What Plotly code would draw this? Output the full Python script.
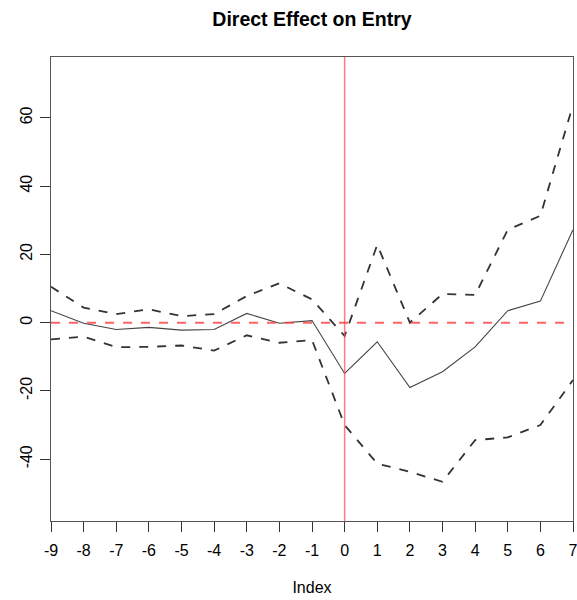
import plotly.graph_objects as go

index = [-9, -8, -7, -6, -5, -4, -3, -2, -1, 0, 1, 2, 3, 4, 5, 6, 7]
estimate = [3.5, -0.2, -2.0, -1.4, -2.2, -2.0, 2.7, -0.2, 0.6, -14.9,
            -5.6, -19.0, -14.4, -7.1, 3.5, 6.3, 27.2]
upper = [10.5, 4.4, 2.5, 3.9, 1.9, 2.5, 7.8, 11.5, 6.8, -3.9,
         22.8, 0.0, 8.4, 8.1, 27.2, 31.3, 63.8]
lower = [-4.9, -4.1, -7.2, -7.1, -6.7, -8.2, -3.7, -5.9, -5.1, -30.0,
         -41.3, -43.7, -46.6, -34.4, -33.6, -30.0, -16.8]
x_ticks = list(range(-9, 8))
y_ticks = [-40, -20, 0, 20, 40, 60]
event_time = 0
null_effect = 0

FONT = "Liberation Sans, Arial, sans-serif"

fig = go.Figure()

fig.add_trace(go.Scatter(x=index, y=upper, mode="lines",
                         line=dict(color="#333333", width=1.8, dash="dash"),
                         showlegend=False))
fig.add_trace(go.Scatter(x=index, y=lower, mode="lines",
                         line=dict(color="#333333", width=1.8, dash="dash"),
                         showlegend=False))
fig.add_trace(go.Scatter(x=index, y=estimate, mode="lines",
                         line=dict(color="#444444", width=1.1),
                         showlegend=False))

fig.add_vline(x=event_time, line=dict(color="rgba(255,80,80,0.75)", width=1.5))
fig.add_hline(y=null_effect, line=dict(color="rgba(255,60,60,0.8)", width=2, dash="dash"))

fig.update_layout(
    width=577, height=600,
    margin=dict(l=51, r=4, t=57, b=79),
    paper_bgcolor="white", plot_bgcolor="white",
    title=dict(text="<b>Direct Effect on Entry</b>", x=312 / 577, xanchor="center",
               y=1 - 19 / 600, yanchor="middle",
               font=dict(family=FONT, size=19.5, color="black")),
    font=dict(family=FONT, size=16, color="black"),
)

fig.update_xaxes(
    range=[-9, 7], tickvals=x_ticks, ticktext=[str(v) for v in x_ticks],
    showgrid=False, zeroline=False, automargin=False,
    showline=True, linecolor="#555555", linewidth=1, mirror=True,
    ticks="outside", ticklen=10, tickcolor="#333333",
    ticklabelstandoff=5, ticklabeloverflow="allow",
    tickfont=dict(family=FONT, size=16, color="black"),
    title=dict(text="Index", standoff=23, font=dict(family=FONT, size=16, color="black")),
)
fig.update_yaxes(
    range=[-58.1, 77.8], tickvals=y_ticks, ticktext=[str(v) for v in y_ticks],
    showgrid=False, zeroline=False, automargin=False,
    showline=True, linecolor="#555555", linewidth=1, mirror=True,
    ticks="outside", ticklen=10, tickcolor="#333333",
    tickangle=-90, ticklabelstandoff=2, ticklabeloverflow="allow",
    tickfont=dict(family=FONT, size=16, color="black"),
)

fig.write_html("out.html")
